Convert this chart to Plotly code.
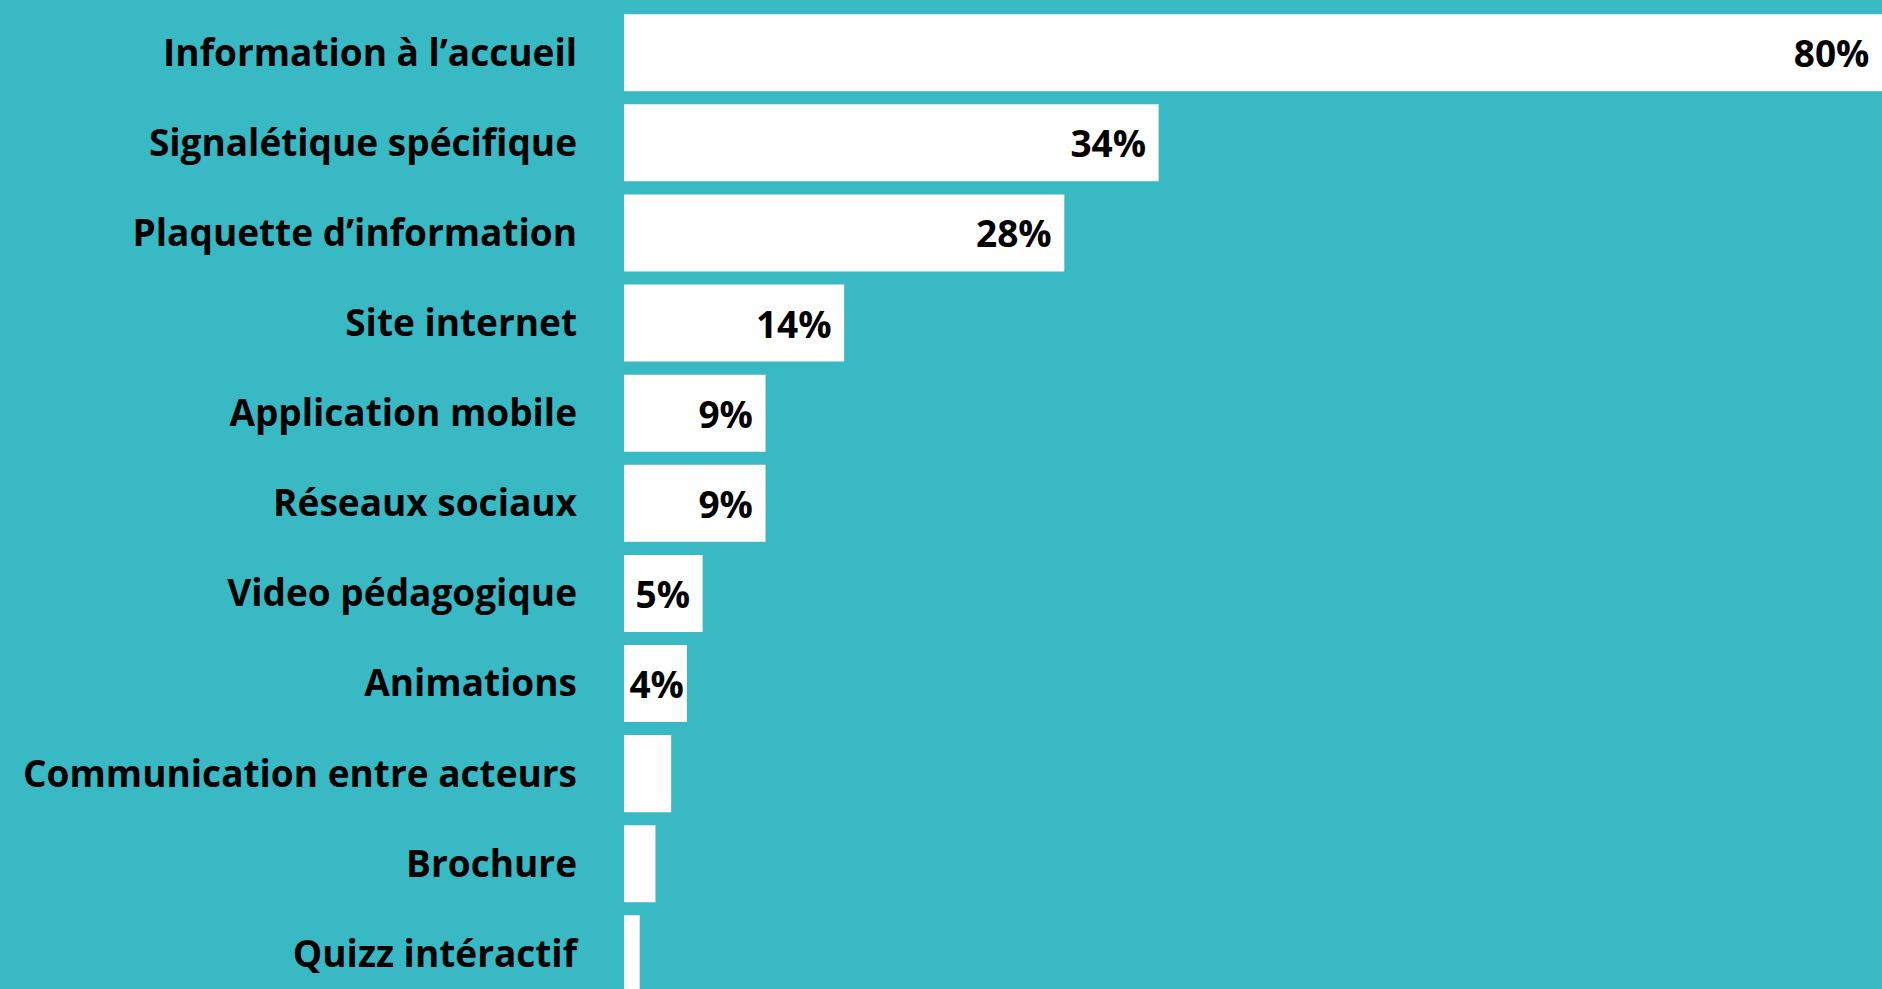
import plotly.graph_objects as go

# share of each communication tool, top to bottom
categories = [
    "Information à l’accueil",
    "Signalétique spécifique",
    "Plaquette d’information",
    "Site internet",
    "Application mobile",
    "Réseaux sociaux",
    "Video pédagogique",
    "Animations",
    "Communication entre acteurs",
    "Brochure",
    "Quizz intéractif",
]
values = [80, 34, 28, 14, 9, 9, 5, 4, 3, 2, 1]

BG = "#38b9c3"
FONT = "Open Sans"

# labels only on bars wide enough to hold them, a bit of right padding
labels = []
for v in values:
    if v >= 5:
        labels.append(f"{v}%\u00a0")
    elif v >= 4:
        labels.append(f"{v}%")
    else:
        labels.append("")

fig = go.Figure()
fig.add_trace(go.Bar(
    x=values,
    y=categories,
    orientation="h",
    marker=dict(color="white", line=dict(width=0)),
    width=0.855,
    text=labels,
    textposition="inside",
    insidetextanchor="end",
    constraintext="none",
    textfont=dict(family=FONT, size=37, color="black", weight="bold"),
    hoverinfo="skip",
))

fig.update_layout(
    width=1882,
    height=989,
    margin=dict(l=624, r=0, t=0, b=0, pad=0),
    paper_bgcolor=BG,
    plot_bgcolor=BG,
    showlegend=False,
    font=dict(family=FONT, color="black"),
)
fig.update_xaxes(visible=False, range=[0, 80])
fig.update_yaxes(
    range=[10.39, -0.585],
    showgrid=False,
    zeroline=False,
    showline=False,
    ticks="",
    ticklabelstandoff=46,
    tickfont=dict(family=FONT, size=37, color="black", weight="bold"),
)

fig.write_html("out.html", config={"displayModeBar": False},
               post_script="document.body.style.margin='0';")
